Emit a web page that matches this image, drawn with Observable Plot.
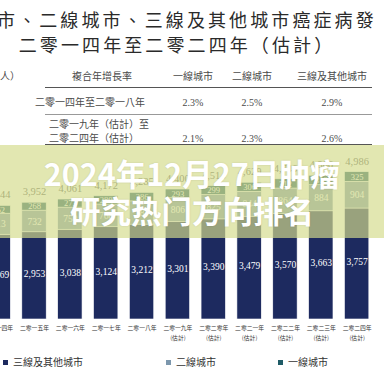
<!DOCTYPE html>
<html><head><meta charset="utf-8">
<script src="https://cdn.jsdelivr.net/npm/d3@7"></script>
<script src="https://cdn.jsdelivr.net/npm/@observablehq/plot@0.6"></script>
<style>
html,body{margin:0;padding:0;background:#fff;}
#wrap{position:relative;width:384px;height:384px;overflow:hidden;font-family:"Noto Sans CJK TC","Noto Sans CJK SC",sans-serif;}
.abs{position:absolute;white-space:nowrap;line-height:1;}
.c{transform:translate(-50%,-50%);}
.l{transform:translate(0,-50%);}
.hl{position:absolute;height:0;}
</style></head><body>
<div id="wrap"></div>
<script>
// ---- data ----
const titleLine1 = "市、二線城市、三線及其他城市癌症病發";
const titleLine2 = "二零一四年至二零二四年（估計）";
const unitLabel = "人）";
const cagrHeader = "複合年增長率";
const cities = ["三線及其他城市", "二線城市", "一線城市"];
const cagrPeriods = [["二零一四年至二零一八年"], ["二零一九年（估計）至", "二零二四年（估計）"]];
const cagrTier1 = ["2.3%", "2.1%"];
const cagrTier2 = ["2.5%", "2.3%"];
const cagrTier3 = ["2.9%", "2.6%"];
const years = ["二零一四年","二零一五年","二零一六年","二零一七年","二零一八年","二零一九年","二零二零年","二零二一年","二零二二年","二零二三年","二零二四年"];
const estimated = [false,false,false,false,false,true,true,true,true,true,true];
const tier3 = [2869,2953,3038,3124,3212,3301,3390,3479,3570,3663,3757];
const tier2 = [713,732,750,768,787,806,825,844,864,884,904];
const tier1 = [262,268,273,280,286,293,299,306,312,319,325];
const totals = [3844,3952,4061,4172,4285,4400,4514,4629,4746,4866,4986];
const overlayLines = ["2024年12月27日肿瘤", "研究热门方向排名"];
const colors = ["#1d2a5f", "#7c97ad", "#1f5b66"];

const wrap = document.getElementById("wrap");
function put(text, x, y, cls, style) {
  const d = document.createElement("div");
  d.className = "abs " + cls;
  d.style.left = x + "px"; d.style.top = y + "px";
  d.textContent = text;
  Object.assign(d.style, style || {});
  wrap.appendChild(d);
  return d;
}
function hline(x1, x2, y, w, col) {
  const d = document.createElement("div");
  d.className = "hl";
  d.style.left = x1 + "px"; d.style.width = (x2 - x1) + "px"; d.style.top = y + "px";
  d.style.borderTop = w + "px solid " + col;
  wrap.appendChild(d);
}

// title
put(titleLine1, -3, 19, "l", {fontSize: "18px", letterSpacing: "3.1px", color: "#2a2a2a"});
put(titleLine2, 177, 44, "c", {fontSize: "18px", letterSpacing: "3.1px", color: "#2a2a2a"});

// table
const tf = {fontSize: "10px", color: "#4a4a4a"};
const nf = {fontSize: "10px", color: "#4a4a4a", fontFamily: "'Liberation Serif', serif"};
put(unitLabel, 0, 76, "l", tf);
put(cagrHeader, 102, 76, "c", tf);
const colX = [193, 252, 332];
put("一線城市", colX[0], 76, "c", tf);
put("二線城市", colX[1], 76, "c", tf);
put(cities[0], colX[2], 76, "c", tf);
hline(45, 372, 87, 1.2, "#555");
put(cagrPeriods[0][0], 90, 102, "c", tf);
put(cagrTier1[0], colX[0], 103, "c", nf);
put(cagrTier2[0], colX[1], 103, "c", nf);
put(cagrTier3[0], colX[2], 103, "c", nf);
hline(45, 372, 114, 1, "#999");
put(cagrPeriods[1][0], 99, 124, "c", tf);
put(cagrPeriods[1][1], 94, 138, "c", tf);
put(cagrTier1[1], colX[0], 139, "c", nf);
put(cagrTier2[1], colX[1], 139, "c", nf);
put(cagrTier3[1], colX[2], 139, "c", nf);
hline(45, 372, 144, 1.2, "#555");

// chart
const rows = [];
years.forEach((y, i) => {
  rows.push({year: y, city: cities[0], v: tier3[i]});
  rows.push({year: y, city: cities[1], v: tier2[i]});
  rows.push({year: y, city: cities[2], v: tier1[i]});
});
const fmt = d3.format(",");
const serif = "Liberation Serif";
const chart = Plot.plot({
  width: 384, height: 210,
  marginTop: 25.3, marginBottom: 37, marginLeft: 0, marginRight: 0,
  x: {domain: years, range: [-25.5, 380.3], padding: 0.32, round: false, axis: null},
  y: {domain: [0, 5000], axis: null},
  color: {domain: cities, range: colors},
  style: {background: "transparent", overflow: "visible"},
  marks: [
    Plot.barY(rows, {x: "year", y: "v", fill: "city", stroke: "white", strokeWidth: 0.6}),
    Plot.text(years, {x: d => d, y: (d, i) => tier3[i] * 0.52, text: (d, i) => fmt(tier3[i]), fill: "white", fontSize: 9.5, fontFamily: serif}),
    Plot.text(years, {x: d => d, y: (d, i) => tier3[i] + tier2[i] / 2, text: (d, i) => fmt(tier2[i]), fill: "white", fontSize: 9.5, fontFamily: serif}),
    Plot.text(years, {x: d => d, y: (d, i) => tier3[i] + tier2[i] + tier1[i] / 2, text: (d, i) => fmt(tier1[i]), fill: "white", fontSize: 8.5, fontFamily: serif}),
    Plot.text(years, {x: d => d, y: (d, i) => totals[i], text: (d, i) => fmt(totals[i]), dy: -11, fill: "#5a5a5a", fontSize: 10.5, fontFamily: serif}),
    Plot.text(years, {x: d => d, frameAnchor: "bottom", text: (d, i) => estimated[i] ? d + "\n(估計)" : d, lineAnchor: "top", dy: 3.5, lineHeight: 1.75, fontSize: 5.8, fill: "#333", fontFamily: "Noto Sans CJK TC"})
  ]
});
const holder = document.createElement("div");
holder.className = "abs"; holder.style.left = "0px"; holder.style.top = "146px";
holder.appendChild(chart);
wrap.appendChild(holder);

// overlay band
const band = document.createElement("div");
band.className = "abs";
Object.assign(band.style, {left: "0px", top: "145px", width: "384px", height: "93px", background: "rgba(212,219,140,0.68)"});
wrap.appendChild(band);
const ov = {fontSize: "30.5px", fontWeight: "bold", color: "#fff", fontFamily: "'Noto Sans CJK SC', sans-serif", textShadow: "0 0 2px rgba(0,0,0,0.12)"};
put(overlayLines[0], 192, 173, "c", ov);
put(overlayLines[1], 192, 210, "c", ov);

// legend
const legX = [3, 166, 278];
cities.forEach((c, i) => {
  const sq = document.createElement("div");
  sq.className = "abs";
  Object.assign(sq.style, {left: legX[i] + "px", top: "359.5px", width: "5px", height: "5px", background: colors[i]});
  wrap.appendChild(sq);
  put(c, legX[i] + 10, 362, "l", {fontSize: "10px", color: "#333"});
});
</script>
</body></html>
